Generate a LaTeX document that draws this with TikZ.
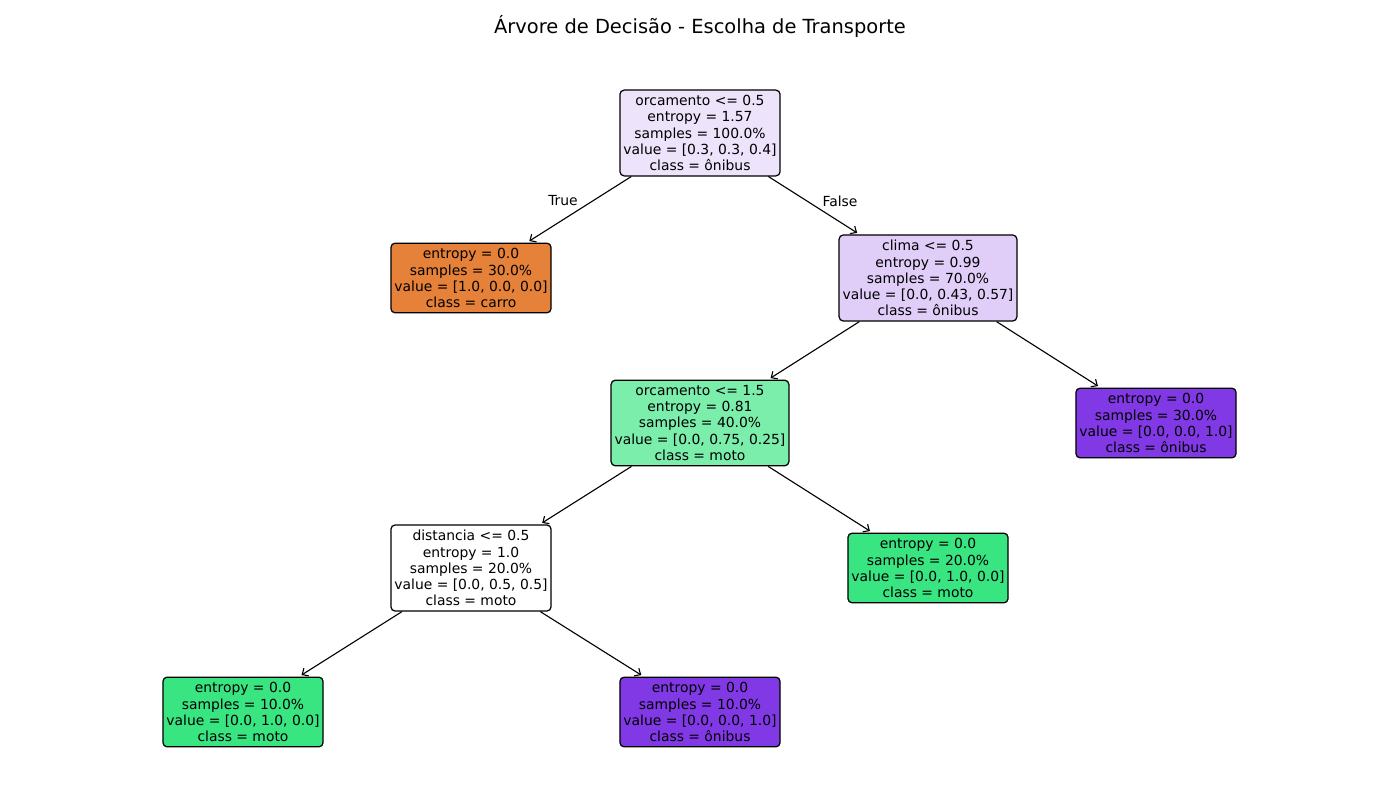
\documentclass[tikz,border=0pt]{standalone}
\usepackage{fontspec}
\setmainfont{DejaVu Sans}
\usepackage{tikz}
\usetikzlibrary{arrows.meta}
\definecolor{rootfill}{RGB}{237, 227, 251}
\definecolor{climafill}{RGB}{224, 206, 249}
\definecolor{mixfill}{RGB}{123, 238, 171}
\definecolor{carrofill}{RGB}{229, 129, 57}
\definecolor{motofill}{RGB}{57, 229, 129}
\definecolor{onibusfill}{RGB}{129, 57, 229}

\begin{document}
\begin{tikzpicture}[x=0.72pt, y=-0.72pt,
		treenode/.style={draw=black, line width=0.9pt, rounded corners=3pt, align=center,
			font=\fontsize{10}{11.6}\selectfont, inner xsep=2.5pt, inner ysep=3.9pt},
		treeedge/.style={-{Straight Barb[length=3.5pt, width=6.5pt]}, line width=0.8pt, shorten >=2pt},
		edgelabel/.style={font=\fontsize{10}{12}\selectfont}]
			\useasboundingbox (0,0) rectangle (1400,800);

			\node[font=\fontsize{14}{16}\selectfont] (title) at (700,27) {Árvore de Decisão - Escolha de Transporte};

			% level 0
			\node[treenode, fill=rootfill] (root) at (700,133) {orcamento <= 0.5\\entropy = 1.57\\samples = 100.0\%\\value = [0.3, 0.3, 0.4]\\class = ônibus};
			% level 1
			\node[treenode, fill=carrofill] (carro) at (471,278) {entropy = 0.0\\samples = 30.0\%\\value = [1.0, 0.0, 0.0]\\class = carro};
			\node[treenode, fill=climafill] (clima) at (928,278) {clima <= 0.5\\entropy = 0.99\\samples = 70.0\%\\value = [0.0, 0.43, 0.57]\\class = ônibus};
			% level 2
			\node[treenode, fill=mixfill] (orcb) at (700,423) {orcamento <= 1.5\\entropy = 0.81\\samples = 40.0\%\\value = [0.0, 0.75, 0.25]\\class = moto};
			\node[treenode, fill=onibusfill] (onibusa) at (1156,423) {entropy = 0.0\\samples = 30.0\%\\value = [0.0, 0.0, 1.0]\\class = ônibus};
			% level 3
			\node[treenode, fill=white] (dist) at (471,568) {distancia <= 0.5\\entropy = 1.0\\samples = 20.0\%\\value = [0.0, 0.5, 0.5]\\class = moto};
			\node[treenode, fill=motofill] (motoa) at (928,568) {entropy = 0.0\\samples = 20.0\%\\value = [0.0, 1.0, 0.0]\\class = moto};
			% level 4
			\node[treenode, fill=motofill] (motob) at (243,712) {entropy = 0.0\\samples = 10.0\%\\value = [0.0, 1.0, 0.0]\\class = moto};
			\node[treenode, fill=onibusfill] (onibusb) at (700,712) {entropy = 0.0\\samples = 10.0\%\\value = [0.0, 0.0, 1.0]\\class = ônibus};

			\draw[treeedge] (root) -- (carro);
			\draw[treeedge] (root) -- (clima);
			\draw[treeedge] (clima) -- (orcb);
			\draw[treeedge] (clima) -- (onibusa);
			\draw[treeedge] (orcb) -- (dist);
			\draw[treeedge] (orcb) -- (motoa);
			\draw[treeedge] (dist) -- (motob);
			\draw[treeedge] (dist) -- (onibusb);

			\node[edgelabel] (lbltrue) at (563,201) {True};
			\node[edgelabel] (lblfalse) at (840,201) {False};

		\end{tikzpicture}
\end{document}
